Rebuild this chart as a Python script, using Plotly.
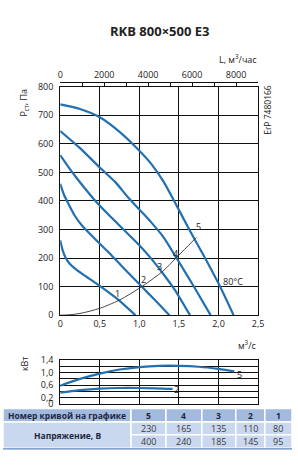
import plotly.graph_objects as go

W, H = 298, 466

# ---- data ----
q1 = [0, 0.03, 0.07, 0.12, 0.2, 0.3, 0.45, 0.6, 0.75, 0.95]
p1 = [262, 228, 200, 180, 160, 140, 112, 82, 50, 0]
q2 = [0, 0.05, 0.1, 0.18, 0.28, 0.4, 0.5, 0.62, 0.8, 1.03, 1.2, 1.38]
p2 = [460, 420, 392, 350, 312, 278, 250, 218, 165, 100, 52, 0]
q3 = [0, 0.1, 0.2, 0.3, 0.42, 0.6, 0.8, 1.0, 1.15, 1.3, 1.45, 1.64]
p3 = [560, 520, 483, 448, 408, 355, 300, 245, 198, 145, 88, 0]
q4 = [0, 0.25, 0.5, 0.7, 0.85, 1.0, 1.15, 1.3, 1.47, 1.7, 1.9]
p4 = [645, 585, 517, 465, 415, 370, 325, 275, 200, 95, 0]
q5 = [0, 0.25, 0.5, 0.75, 1.0, 1.15, 1.3, 1.44, 1.63, 1.83, 2.02, 2.19]
p5 = [738, 722, 693, 642, 576, 530, 470, 400, 300, 200, 100, 0]
qs = [0, 0.1, 0.25, 0.5, 0.62, 0.75, 1.03, 1.3, 1.47, 1.72]
ps = [0, 1, 6, 24, 37, 53, 100, 155, 202, 272]

qk5 = [0, 0.25, 0.5, 0.75, 1.0, 1.25, 1.5, 1.75, 2.0, 2.2]
kw5 = [0.58, 0.8, 0.97, 1.1, 1.18, 1.22, 1.22, 1.19, 1.12, 1.04]
qk2 = [0, 0.25, 0.5, 0.75, 1.0, 1.2, 1.42]
kw2 = [0.36, 0.44, 0.49, 0.51, 0.51, 0.5, 0.48]

curve_labels = ["1", "2", "3", "4", "5"]
label_q = [0.725, 1.05, 1.255, 1.46, 1.75]
label_p = [77, 126, 170, 217, 312]

x_tickvals = [0, 0.5, 1.0, 1.5, 2.0, 2.5]
x_ticktext = ["0", "0,5", "1,0", "1,5", "2,0", "2,5"]
top_tickvals = [0, 1000, 2000, 3000, 4000, 5000, 6000, 7000, 8000, 9000]
top_ticktext = ["0", " ", "2000", " ", "4000", " ", "6000", " ", "8000", " "]
kw_tickvals = [0, 0.2, 0.4, 0.6, 0.8, 1.0, 1.2, 1.4]
kw_ticktext = ["0", "0,2", " ", "0,6", " ", "1,0", " ", "1,4"]

table_header = ["Номер кривой на графике", "5", "4", "3", "2", "1"]
table_row_label = "Напряжение, В"
volt_row1 = ["230", "165", "135", "110", "80"]
volt_row2 = ["400", "240", "185", "145", "95"]

BLUE = "#2270b0"
FONT = "Open Sans"
TXT = "#222222"


def px_x(px):
    return px / W


def px_y(py):
    return 1 - py / H


fig = go.Figure()
for q, p in [(q1, p1), (q2, p2), (q3, p3), (q4, p4), (q5, p5)]:
    fig.add_trace(go.Scatter(x=q, y=p, mode="lines",
                             line=dict(color=BLUE, width=2.2, shape="spline", smoothing=0.6),
                             xaxis="x", yaxis="y", showlegend=False, hoverinfo="skip"))
fig.add_trace(go.Scatter(x=qs, y=ps, mode="lines", line=dict(color="#333333", width=0.9, shape="spline"),
                         xaxis="x", yaxis="y", showlegend=False, hoverinfo="skip"))
# invisible trace to show the top (m3/h) axis
fig.add_trace(go.Scatter(x=[0, 9000], y=[0, 0], mode="lines", line=dict(width=0), opacity=0,
                         xaxis="x2", yaxis="y", showlegend=False, hoverinfo="skip"))
for q, k in [(qk5, kw5), (qk2, kw2)]:
    fig.add_trace(go.Scatter(x=q, y=k, mode="lines", line=dict(color=BLUE, width=2.2, shape="spline"),
                             xaxis="x3", yaxis="y3", showlegend=False, hoverinfo="skip"))

xd = [px_x(59), px_x(263)]
tickfont = dict(family=FONT, size=9, color=TXT)
grid = dict(showgrid=True, gridcolor="#111111", gridwidth=1.1, showline=True, linecolor="#111111",
            linewidth=1.1, mirror=True, zeroline=False)

fig.update_layout(
    width=W, height=H, margin=dict(l=0, r=0, t=0, b=0),
    paper_bgcolor="white", plot_bgcolor="white",
    xaxis=dict(domain=xd, range=[0, 2.5], tickvals=x_tickvals, ticktext=x_ticktext, ticks="",
               tickfont=tickfont, anchor="y", **grid),
    yaxis=dict(domain=[px_y(317), px_y(82)], range=[0, 800], dtick=100, ticks="", tickfont=tickfont,
               anchor="x", ticklabelstandoff=4, **grid),
    xaxis2=dict(overlaying="x", anchor="free", position=px_y(77), side="top", range=[0, 9000],
                tickvals=top_tickvals, ticktext=top_ticktext, ticks="inside", ticklen=3,
                tickcolor="#111111", showline=True, linecolor="#111111", linewidth=1.1,
                showgrid=False, zeroline=False, tickfont=tickfont),
    xaxis3=dict(domain=xd, range=[0, 2.5], dtick=0.5, showticklabels=False, ticks="", anchor="y3", **grid),
    yaxis3=dict(domain=[px_y(408.3), px_y(363.3)], range=[0, 1.4], tickvals=kw_tickvals,
                ticktext=kw_ticktext, ticks="", tickfont=tickfont, anchor="x3", ticklabelstandoff=4, **grid),
)


def pann(text, x, y, size=9, color=TXT, xanchor="center", angle=0, family=FONT):
    return dict(text=text, x=px_x(x), y=px_y(y), xref="paper", yref="paper", xanchor=xanchor,
                yanchor="middle", textangle=angle, showarrow=False,
                font=dict(family=family, size=size, color=color))


ann = []
ann.append(pann("<b>RKB 800×500 E3</b>", 161, 25, size=13))
ann.append(pann("L, м<sup>3</sup>/час", 264, 53, xanchor="right"))
ann.append(pann("м<sup>3</sup>/с", 264, 348, xanchor="right"))
ann.append(pann("P<sub>ст</sub>, Па", 22, 98, angle=-90))
ann.append(pann("кВт", 22, 367, angle=-90))
ann.append(pann("ErP 7480166", 272, 106, size=8.5, angle=-90))
for t, q, p in zip(curve_labels, label_q, label_p):
    ann.append(dict(text=t, x=q, y=p, xref="x", yref="y", showarrow=False, yanchor="middle",
                    font=dict(family=FONT, size=9, color=TXT)))
ann.append(dict(text="80°C", x=2.03, y=118, xref="x", yref="y", xanchor="left", yanchor="middle",
                showarrow=False, font=dict(family=FONT, size=9, color=TXT)))
ann.append(dict(text="5", x=2.26, y=0.93, xref="x3", yref="y3", showarrow=False, yanchor="middle",
                font=dict(family=FONT, size=9, color=TXT)))
ann.append(dict(text="2", x=1.47, y=0.47, xref="x3", yref="y3", showarrow=False, yanchor="middle",
                font=dict(family=FONT, size=9, color=TXT)))

# ---- table drawn with shapes ----
shapes = []
col_edges = [0, 132, 168, 205, 240, 270, 298]
row_edges = [413, 427, 440, 454]
HEAD = "#a3badf"
BODY = "#cad8ef"


def prect(x0, x1, y0, y1, fill):
    return dict(type="rect", xref="paper", yref="paper", x0=px_x(x0), x1=px_x(x1),
                y0=px_y(y1), y1=px_y(y0), fillcolor=fill, line=dict(color="white", width=1.5))


for i in range(len(col_edges) - 1):
    x0, x1 = col_edges[i], col_edges[i + 1]
    xc = (x0 + x1) / 2
    shapes.append(prect(x0, x1, row_edges[0], row_edges[1], HEAD))
    ann.append(pann(f"<b>{table_header[i]}</b>", xc, (row_edges[0] + row_edges[1]) / 2, size=8.5,
                    color="#1d2740"))
    if i == 0:
        shapes.append(prect(x0, x1, row_edges[1], row_edges[3], BODY))
        ann.append(pann(f"<b>{table_row_label}</b>", xc, (row_edges[1] + row_edges[3]) / 2, size=8.5,
                        color="#1d2740"))
    else:
        for r, vals in enumerate([volt_row1, volt_row2]):
            y0, y1 = row_edges[r + 1], row_edges[r + 2]
            shapes.append(prect(x0, x1, y0, y1, BODY))
            ann.append(pann(vals[i - 1], xc, (y0 + y1) / 2, size=9, color="#3a3a3a"))
shapes.append(dict(type="line", xref="paper", yref="paper", x0=0, x1=1, y0=px_y(454.5), y1=px_y(454.5),
                   line=dict(color="#5b86c4", width=1.2)))

fig.update_layout(annotations=ann, shapes=shapes)
fig.write_html("out.html",
               post_script="document.body.style.margin='0';document.body.style.padding='0';"
                           "document.documentElement.style.overflow='hidden';")
